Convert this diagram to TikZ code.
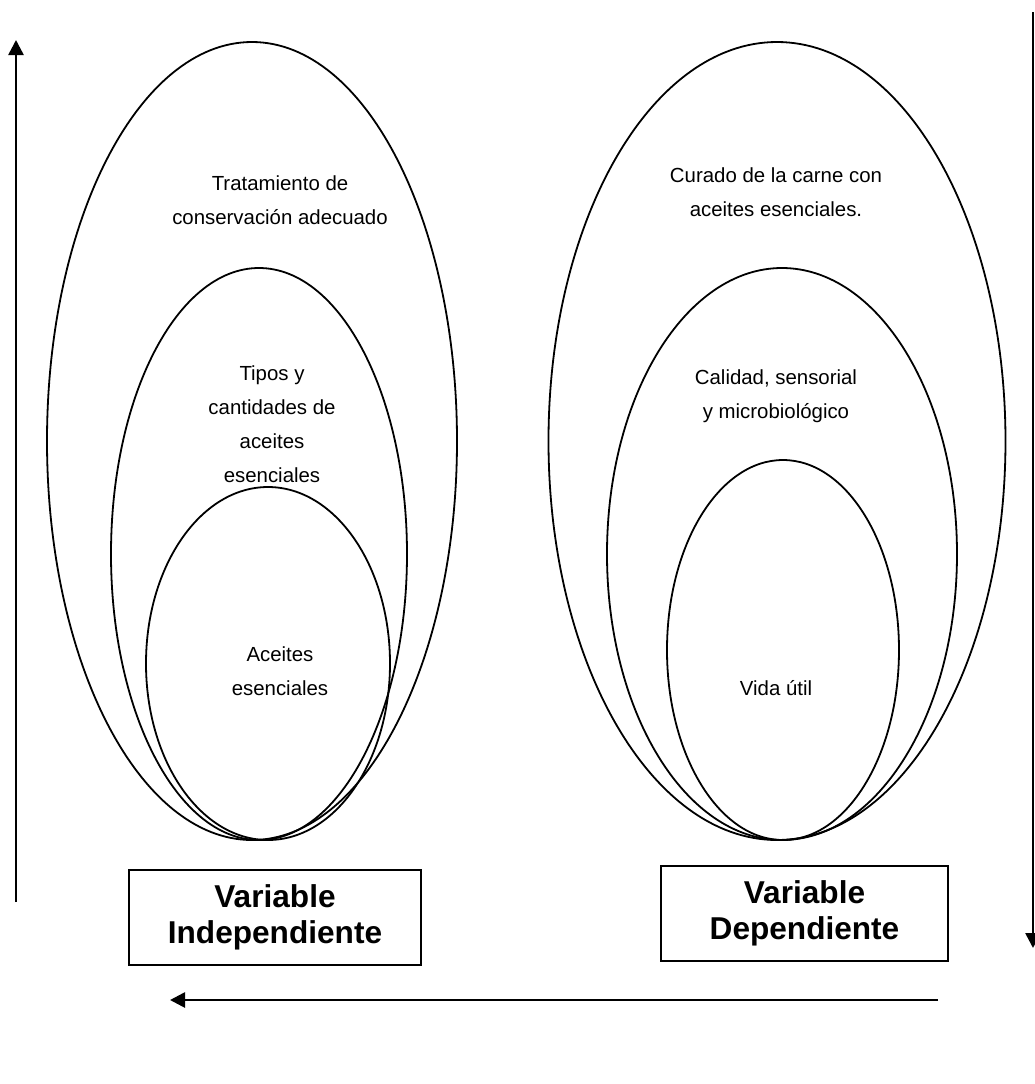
\documentclass[tikz,border=0pt]{standalone}
\usepackage{fontspec}
\setmainfont{Liberation Sans}
\usetikzlibrary{shapes.geometric,arrows.meta}
\begin{document}
\begin{tikzpicture}[x=0.5pt,y=-0.5pt,
  ell/.style={draw,ellipse,line width=0.9pt,inner sep=0pt},
  etext/.style={align=center,font=\fontsize{10.2}{17}\selectfont},
  vbox/.style={draw,rectangle,line width=1pt,inner sep=0pt,align=center,font=\fontsize{15.8}{18}\selectfont\bfseries},
  axisarrow/.style={line width=1.3pt,-{Triangle[length=7.5pt,width=7.5pt]}}]
\useasboundingbox (0,0) rectangle (1035,1084);
% left group
\node[ell,minimum width=205pt,minimum height=399pt] (L1) at (252,441) {};
\node[ell,minimum width=148pt,minimum height=286pt] (L2) at (259,554) {};
\node[ell,minimum width=122pt,minimum height=176.5pt] (L3) at (268,663.5) {};
\node[etext] (tL1) at (280,200) {Tratamiento de\\conservación adecuado};
\node[etext] (tL2) at (272,424) {Tipos y\\cantidades de\\aceites\\esenciales};
\node[etext] (tL3) at (280,671) {Aceites\\esenciales};
% right group
\node[ell,minimum width=228.5pt,minimum height=399pt] (R1) at (777,441) {};
\node[ell,minimum width=175pt,minimum height=286pt] (R2) at (782,554) {};
\node[ell,minimum width=116pt,minimum height=190pt] (R3) at (783,650) {};
\node[etext] (tR1) at (776,192) {Curado de la carne con\\aceites esenciales.};
\node[etext] (tR2) at (776,396) {Calidad, sensorial\\y microbiológico};
\node[etext] (tR3) at (776,688) {Vida útil};
% boxes
\node[vbox,minimum width=146pt,minimum height=47.5pt] (B1) at (275,917.5) {Variable\\Independiente};
\node[vbox,minimum width=143.5pt,minimum height=47.5pt] (B2) at (804.5,913.5) {Variable\\Dependiente};
% arrows
\coordinate (a1s) at (16,902);
\coordinate (a1e) at (16,40);
\coordinate (a2s) at (1033,12);
\coordinate (a2e) at (1033,948);
\coordinate (a3s) at (938,1000);
\coordinate (a3e) at (170,1000);
\draw[axisarrow] (a1s) -- (a1e);
\draw[axisarrow] (a2s) -- (a2e);
\draw[axisarrow] (a3s) -- (a3e);
\end{tikzpicture}
\end{document}
